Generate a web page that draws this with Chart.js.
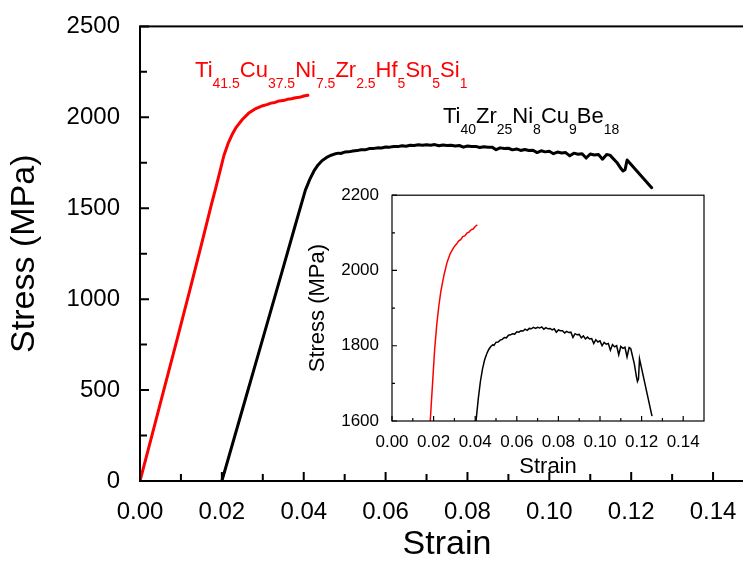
<!DOCTYPE html>
<html>
<head>
<meta charset="utf-8">
<script src="https://cdn.jsdelivr.net/npm/chart.js@4"></script>
<style>
  html, body { margin: 0; padding: 0; background: #fff; overflow: hidden; }
  #wrap { position: relative; width: 743px; height: 562px; overflow: hidden; }
  #main { position: absolute; left: 0; top: 0; }
  #inset { position: absolute; left: 290px; top: 180px; }
</style>
</head>
<body>
<div id="wrap">
  <canvas id="main" width="770" height="562"></canvas>
  <canvas id="inset" width="430" height="300"></canvas>
</div>
<script>
const FONT = '"Liberation Sans", Arial, sans-serif';

// Ti41.5Cu37.5Ni7.5Zr2.5Hf5Sn5Si1 (red)
const redStrain = [0, 0.003, 0.006, 0.009, 0.012, 0.015, 0.0175, 0.0185, 0.0195, 0.0205, 0.0215,
  0.0225, 0.0235, 0.025, 0.0265, 0.028, 0.029, 0.030, 0.031, 0.032, 0.033, 0.034, 0.035,
  0.036, 0.037, 0.038, 0.039, 0.040, 0.041];
const redStress = [0, 258, 516, 774, 1035, 1300, 1525, 1610, 1700, 1790, 1855,
  1905, 1945, 1988, 2022, 2045, 2055, 2064, 2070, 2078, 2082, 2090, 2092,
  2099, 2102, 2108, 2110, 2117, 2121];

// Ti40Zr25Ni8Cu9Be18 (black)
const blackStrain = [0.020, 0.023, 0.026, 0.029, 0.032, 0.035, 0.038, 0.0404, 0.0415, 0.0425,
  0.0435, 0.0445, 0.0455, 0.0465, 0.0475, 0.0485, 0.049, 0.050, 0.051, 0.052, 0.053, 0.054,
  0.055, 0.056, 0.057, 0.058, 0.059, 0.060, 0.061, 0.062, 0.063, 0.064, 0.065, 0.066, 0.067,
  0.068, 0.069, 0.070, 0.071, 0.072, 0.073, 0.074, 0.075, 0.076, 0.077, 0.078, 0.079, 0.080,
  0.081, 0.082, 0.083, 0.084, 0.085, 0.086, 0.087, 0.088, 0.089, 0.090, 0.091, 0.092, 0.093,
  0.094, 0.095, 0.096, 0.097, 0.098, 0.099, 0.100, 0.101, 0.102, 0.103, 0.104, 0.105, 0.106,
  0.107, 0.108, 0.109, 0.110, 0.111, 0.112, 0.113, 0.114, 0.1148, 0.1165, 0.1175, 0.118,
  0.1185, 0.119, 0.125];
const blackStress = [0, 235, 470, 705, 940, 1175, 1412, 1600, 1660, 1705,
  1738, 1762, 1778, 1790, 1798, 1803, 1801, 1809, 1810, 1815, 1817, 1822,
  1821, 1828, 1829, 1832, 1831, 1837, 1836, 1840, 1839, 1844, 1841, 1846, 1845,
  1849, 1846, 1849, 1847, 1850, 1844, 1848, 1845, 1846, 1842, 1845, 1836, 1842,
  1840, 1840, 1834, 1838, 1835, 1836, 1822, 1832, 1829, 1830, 1821, 1826, 1818,
  1823, 1818, 1819, 1806, 1816, 1810, 1813, 1800, 1809, 1804, 1806, 1788, 1803,
  1797, 1800, 1776, 1798, 1793, 1796, 1770, 1795, 1792, 1752, 1718, 1705,
  1712, 1765, 1613];

const mainXTicks = [0, 0.02, 0.04, 0.06, 0.08, 0.10, 0.12, 0.14];
const mainYTicks = [0, 500, 1000, 1500, 2000, 2500];
const insetXTicks = [0, 0.02, 0.04, 0.06, 0.08, 0.10, 0.12, 0.14];
const insetYTicks = [1600, 1800, 2000, 2200];

const redLabel = [['Ti', 0], ['41.5', 1], ['Cu', 0], ['37.5', 1], ['Ni', 0], ['7.5', 1],
  ['Zr', 0], ['2.5', 1], ['Hf', 0], ['5', 1], ['Sn', 0], ['5', 1], ['Si', 0], ['1', 1]];
const blackLabel = [['Ti', 0], ['40', 1], ['Zr', 0], ['25', 1], ['Ni', 0], ['8', 1],
  ['Cu', 0], ['9', 1], ['Be', 0], ['18', 1]];

function toXY(xs, ys) {
  return xs.map((x, i) => ({ x: x, y: ys[i] }));
}

// box frame + inward ticks (major on the tick list, minor halfway)
const frameTicks = {
  id: 'frameTicks',
  afterDraw(chart, args, opts) {
    const { ctx, chartArea: a, scales: { x, y } } = chart;
    ctx.save();
    ctx.strokeStyle = '#000';
    ctx.lineWidth = opts.width;
    ctx.beginPath();
    opts.xTicks.forEach((v, i) => {
      const px = x.getPixelForValue(v);
      ctx.moveTo(px, a.bottom);
      ctx.lineTo(px, a.bottom - opts.major);
      const next = opts.xTicks[i + 1];
      if (next !== undefined) {
        const pm = x.getPixelForValue((v + next) / 2);
        ctx.moveTo(pm, a.bottom);
        ctx.lineTo(pm, a.bottom - opts.minor);
      }
    });
    opts.yTicks.forEach((v, i) => {
      const py = y.getPixelForValue(v);
      ctx.moveTo(a.left, py);
      ctx.lineTo(a.left + opts.major, py);
      const next = opts.yTicks[i + 1];
      if (next !== undefined) {
        const pm = y.getPixelForValue((v + next) / 2);
        ctx.moveTo(a.left, pm);
        ctx.lineTo(a.left + opts.minor, pm);
      }
    });
    ctx.stroke();
    ctx.strokeRect(a.left, a.top, a.right - a.left, a.bottom - a.top);
    ctx.restore();
  }
};

// chemical formula labels with subscripts
const formulas = {
  id: 'formulas',
  afterDraw(chart, args, opts) {
    if (!opts.items) return;
    const { ctx, scales: { x, y } } = chart;
    ctx.save();
    ctx.textBaseline = 'alphabetic';
    opts.items.forEach(item => {
      let px = x.getPixelForValue(item.x);
      const py = y.getPixelForValue(item.y);
      ctx.fillStyle = item.color;
      item.runs.forEach(([t, sub]) => {
        ctx.font = (sub ? 14 : 22) + 'px ' + FONT;
        ctx.fillText(t, px, sub ? py + 11 : py);
        px += ctx.measureText(t).width;
      });
    });
    ctx.restore();
  }
};

function axisFont(size) {
  return { family: FONT, size: size, lineHeight: 1 };
}

new Chart(document.getElementById('main'), {
  type: 'line',
  data: {
    datasets: [
      { data: toXY(redStrain, redStress), borderColor: '#ff0000', borderWidth: 3 },
      { data: toXY(blackStrain, blackStress), borderColor: '#000000', borderWidth: 3 }
    ]
  },
  options: {
    responsive: false,
    animation: false,
    elements: {
      point: { radius: 0 },
      line: { tension: 0, borderJoinStyle: 'round', borderCapStyle: 'round' }
    },
    layout: { padding: { top: 26, right: 16, left: 0, bottom: 0 } },
    plugins: {
      legend: { display: false },
      tooltip: { enabled: false },
      frameTicks: { width: 2, major: 9, minor: 7, xTicks: mainXTicks, yTicks: mainYTicks },
      formulas: {
        items: [
          { runs: redLabel, color: '#ff0000', x: 0.01344, y: 2220 },
          { runs: blackLabel, color: '#000000', x: 0.0740, y: 1967 }
        ]
      }
    },
    scales: {
      x: {
        type: 'linear', min: 0, max: 0.15,
        grid: { display: false }, border: { display: false },
        afterBuildTicks: s => { s.ticks = mainXTicks.map(v => ({ value: v })); },
        afterFit: s => { s.height = 81; },
        ticks: {
          padding: 9, color: '#000', font: { family: FONT, size: 24 },
          maxRotation: 0, autoSkip: false, callback: v => v.toFixed(2)
        },
        title: {
          display: true, text: 'Strain', color: '#000',
          font: axisFont(34), padding: { top: 0, bottom: 0 }
        }
      },
      y: {
        type: 'linear', min: 0, max: 2500,
        grid: { display: false }, border: { display: false },
        afterBuildTicks: s => { s.ticks = mainYTicks.map(v => ({ value: v })); },
        afterFit: s => { s.width = 140; },
        ticks: {
          padding: 12, color: '#000', font: { family: FONT, size: 24 },
          autoSkip: false, callback: v => String(v)
        },
        title: {
          display: true, text: 'Stress (MPa)', color: '#000',
          font: axisFont(34), padding: { top: 8, bottom: 0 }
        }
      }
    }
  },
  plugins: [frameTicks, formulas]
});

new Chart(document.getElementById('inset'), {
  type: 'line',
  data: {
    datasets: [
      { data: toXY(redStrain, redStress), borderColor: '#ff0000', borderWidth: 1.5 },
      { data: toXY(blackStrain, blackStress), borderColor: '#000000', borderWidth: 1.5 }
    ]
  },
  options: {
    responsive: false,
    animation: false,
    elements: {
      point: { radius: 0 },
      line: { tension: 0 }
    },
    layout: { padding: { top: 11, right: 16, left: 0, bottom: 0 } },
    plugins: {
      legend: { display: false },
      tooltip: { enabled: false },
      frameTicks: { width: 1.2, major: 5, minor: 3, xTicks: insetXTicks, yTicks: insetYTicks }
    },
    scales: {
      x: {
        type: 'linear', min: 0, max: 0.15,
        grid: { display: false }, border: { display: false },
        afterBuildTicks: s => { s.ticks = insetXTicks.map(v => ({ value: v })); },
        afterFit: s => { s.height = 59; },
        ticks: {
          padding: 3, color: '#000', font: { family: FONT, size: 17 },
          maxRotation: 0, autoSkip: false, callback: v => v.toFixed(2)
        },
        title: {
          display: true, text: 'Strain', color: '#000',
          font: axisFont(22), padding: { top: 0, bottom: 2 }
        }
      },
      y: {
        type: 'linear', min: 1600, max: 2200,
        grid: { display: false }, border: { display: false },
        afterBuildTicks: s => { s.ticks = insetYTicks.map(v => ({ value: v })); },
        afterFit: s => { s.width = 102; },
        ticks: {
          padding: 5, color: '#000', font: { family: FONT, size: 17 },
          autoSkip: false, callback: v => String(v)
        },
        title: {
          display: true, text: 'Stress (MPa)', color: '#000',
          font: axisFont(22), padding: { top: 17, bottom: 0 }
        }
      }
    }
  },
  plugins: [frameTicks]
});
</script>
</body>
</html>
